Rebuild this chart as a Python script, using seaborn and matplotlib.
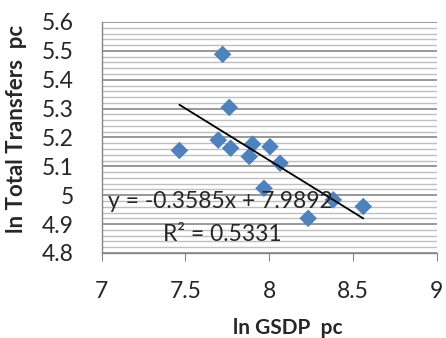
import matplotlib
matplotlib.use("Agg")
import matplotlib.pyplot as plt
from matplotlib.ticker import MultipleLocator
import numpy as np
import pandas as pd
import seaborn as sns

# data
ln_gsdp = [7.464, 7.722, 7.762, 7.696, 7.770, 7.901, 7.881, 8.005, 8.065, 7.969, 8.383, 8.562, 8.233]
ln_transfers = [5.155, 5.488, 5.304, 5.191, 5.163, 5.177, 5.134, 5.168, 5.111, 5.024, 4.984, 4.961, 4.920]
slope = -0.3585
intercept = 7.9892
r2 = 0.5331
x_ticks = [7, 7.5, 8, 8.5, 9]
y_ticks = [4.8, 4.9, 5.0, 5.1, 5.2, 5.3, 5.4, 5.5, 5.6]
x_tick_labels = ["7", "7.5", "8", "8.5", "9"]
y_tick_labels = ["4.8", "4.9", "5", "5.1", "5.2", "5.3", "5.4", "5.5", "5.6"]

sns.set_style("white")
plt.rcParams['font.family'] = ['Lato', 'DejaVu Sans']

df = pd.DataFrame({"x": ln_gsdp, "y": ln_transfers})

fig = plt.figure(figsize=(4.46, 3.38), dpi=100)
ax = fig.add_axes([0.228, 0.2515, 0.751, 0.6835])

ax.set_xlim(7, 9)
ax.set_ylim(4.8, 5.6)
ax.set_xticks(x_ticks)
ax.set_xticklabels(x_tick_labels)
ax.set_yticks(y_ticks)
ax.set_yticklabels(y_tick_labels)
ax.yaxis.set_minor_locator(MultipleLocator(0.02))
ax.set_axisbelow(True)
ax.grid(which='minor', axis='y', color='#bfbfbf', lw=1.0)
ax.grid(which='major', axis='y', color='#868686', lw=1.2)
ax.grid(which='major', axis='x', visible=False)

sns.scatterplot(data=df, x="x", y="y", marker='D', s=80, color='#4F81BD',
                edgecolor='none', ax=ax, zorder=3)

xs = np.array([min(ln_gsdp), max(ln_gsdp)])
ax.plot(xs, slope * xs + intercept, color='black', lw=1.3, zorder=4)

ax.text(0.018, 0.225, f"y = {slope}x + {intercept}", transform=ax.transAxes,
        fontsize=16.5, ha='left', va='center', zorder=5)
ax.text(0.183, 0.08, f"R² = {r2}", transform=ax.transAxes,
        fontsize=16.5, ha='left', va='center', zorder=5)

for side in ['top', 'right']:
    ax.spines[side].set_visible(False)
for side in ['left', 'bottom']:
    ax.spines[side].set_color('#868686')
    ax.spines[side].set_linewidth(1.0)

ax.tick_params(axis='y', which='major', length=6, color='#868686', pad=14, labelsize=16.5)
ax.tick_params(axis='x', which='major', length=6, color='#868686', pad=14, labelsize=16.5, bottom=True)
ax.tick_params(axis='y', which='minor', length=0)
ax.set_xlabel("")
ax.set_ylabel("")

fig.text(0.645, 0.03, "ln GSDP  pc", fontsize=15, fontweight='bold', ha='center', va='center')
fig.text(0.037, 0.62, "ln Total Transfers  pc", fontsize=16, fontweight='bold',
         ha='center', va='center', rotation=90)

fig.savefig("out.png", dpi=100)
